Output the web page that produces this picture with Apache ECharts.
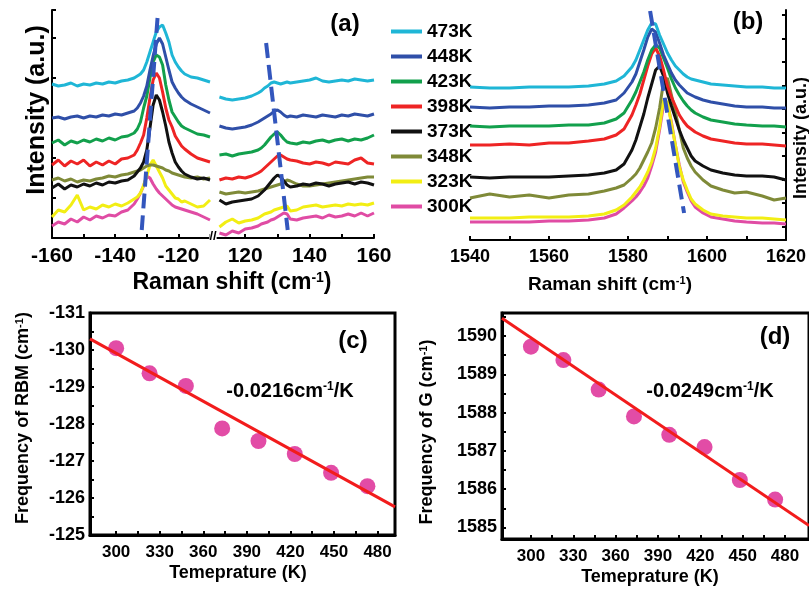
<!DOCTYPE html>
<html><head><meta charset="utf-8">
<script src="https://cdn.jsdelivr.net/npm/echarts@6/dist/echarts.min.js"></script>
<style>html,body{margin:0;padding:0;background:#fff}#c{width:809px;height:589px}</style>
</head><body><div id="c"></div>
<script>
// ---------- categories / legend ----------
const temps = ['300K','323K','348K','373K','398K','423K','448K','473K'];
const colors = ['#e04ca4','#f2ee14','#7f8a38','#111111','#ee2424','#12a04c','#2f4fa8','#1fb6d6'];

// ---------- panel (a): RBM, anti-Stokes side ----------
const aLeftX = [-160,-158,-156,-154,-152,-150,-148,-146,-144,-142,-140,-138,-136,-134,-133,-132,-131,-130,-129,-128,-127,-126,-125,-124,-123,-122,-121,-120,-119,-118,-116,-114,-112,-110];
const rbmL300 = [12,16,14,19,16,21,18,22,20,23,22,26,28,34,39,45,52,62,60,54,49,45,42,39,36,33,31,30,29,28,26,24,21,18];
const rbmL323 = [21,28,26,33,43,28,31,29,33,31,34,32,35,39,41,45,53,62,73,78,72,66,60,52,48,44,40,39,36,37,34,31,32,38];
const rbmL348 = [58,60,57,59,56,58,57,59,60,62,61,63,64,66,67,68,70,72,73,73,72,71,70,68,67,65,64,63,62,61,60,61,59,60];
const rbmL373 = [50,54,49,53,51,54,52,55,53,56,55,57,58,62,66,70,76,88,110,133,143,138,126,112,96,85,76,71,67,64,61,59,60,58];
const rbmL398 = [73,78,72,77,74,78,72,76,73,77,74,79,80,83,88,95,103,120,140,158,165,160,146,130,118,111,102,97,92,89,84,80,78,76];
const rbmL423 = [95,98,93,97,95,98,96,99,97,100,98,101,102,105,109,116,130,142,160,176,183,181,173,153,138,126,121,116,112,110,107,104,103,101];
const rbmL448 = [120,121,119,121,122,120,122,121,123,122,124,123,125,127,130,135,142,152,168,182,194,200,194,181,168,156,150,145,141,138,134,131,128,125];
const rbmL473 = [154,152,153,155,152,154,153,155,154,156,155,157,158,160,162,164,168,176,186,196,206,211,213,205,196,183,176,171,167,164,161,160,158,156];

// ---------- panel (a): RBM, Stokes side ----------
const aRightX = [112,114,116,118,120,122,124,125,126,127,128,129,130,131,132,133,134,136,138,140,142,144,146,148,150,152,154,156,158,160];
const rbmR300 = [5,3,7,5,9,10,12,14,15,16,18,19,21,23,25,24,19,18,20,21,22,20,23,21,22,24,22,25,22,25];
const rbmR323 = [11,16,19,15,17,18,20,22,24,25,26,28,29,30,31,32,27,28,31,32,33,31,32,33,32,34,33,34,33,35];
const rbmR348 = [46,44,45,46,45,46,47,48,49,50,51,52,53,54,56,58,57,54,52,52,53,54,55,56,57,58,59,60,61,61];
const rbmR373 = [38,34,36,37,38,39,42,45,48,52,56,60,63,61,57,53,51,52,54,53,55,54,52,54,55,56,54,56,55,53];
const rbmR398 = [58,60,59,61,60,62,65,67,70,73,76,79,82,83,81,79,78,77,75,74,76,75,73,76,75,74,78,80,75,74];
const rbmR423 = [83,84,82,84,85,86,88,90,93,97,101,104,106,103,99,96,95,94,96,95,97,98,96,98,99,97,99,98,100,103];
const rbmR448 = [112,110,109,110,111,113,116,118,120,122,124,127,128,126,123,121,122,121,123,122,121,123,122,121,123,122,124,123,122,124];
const rbmR473 = [141,139,138,139,140,142,145,147,150,152,155,156,155,154,155,156,155,156,157,158,160,157,156,157,158,157,159,158,157,158];

// peak-shift guide lines in (a)
const dashALx = [-126.6, -131.6];
const dashALy = [220, 8];
const dashARx = [126.5, 133.2];
const dashARy = [195, 8];

// ---------- panel (b): G band ----------
const bX = [1540,1545,1550,1555,1560,1565,1570,1574,1577,1579,1581,1582,1583,1584,1585,1586,1587,1588,1589,1590,1591,1592,1593,1594,1595,1596,1597,1599,1601,1604,1607,1610,1614,1617,1620];
const gB300 = [18,18,18,18,19,19,20,22,26,32,39,43,48,54,62,74,88,110,135,137,118,95,75,58,48,39,33,27,23,21,19,18,17,17,16];
const gB323 = [22,22,22,23,23,23,24,26,30,35,43,48,53,60,68,78,92,113,140,138,116,95,73,60,50,41,36,30,26,24,23,22,22,21,20];
const gB348 = [42,46,43,45,42,45,46,49,52,55,62,66,72,80,88,97,112,132,158,162,145,128,110,92,82,74,68,60,54,50,47,48,44,40,42];
const gB373 = [63,62,63,63,63,64,65,67,70,76,90,100,113,126,142,156,170,174,164,147,134,122,110,100,92,84,79,74,70,67,65,64,64,63,60];
const gB398 = [95,95,96,95,97,97,99,101,105,111,125,135,146,160,174,186,192,184,170,154,143,134,125,119,114,111,108,104,101,99,97,96,96,95,94];
const gB423 = [114,113,114,114,114,115,115,117,121,127,140,148,158,168,180,190,195,192,182,172,161,152,145,139,134,130,127,123,120,118,116,115,114,114,113];
const gB448 = [133,132,133,133,134,134,135,137,140,147,158,166,178,190,203,211,208,197,185,176,167,160,155,151,147,145,143,140,138,136,134,133,133,132,132];
const gB473 = [153,152,152,153,153,153,154,156,159,164,173,180,190,200,210,217,216,205,196,187,180,174,170,166,163,161,160,158,156,155,154,153,153,152,152];
const dashBx = [1585.6, 1594.2];
const dashBy = [229, 27];

// ---------- tick labels ----------
const aLabelsL = [-160,-140,-120];
const aLabelsR = [120,140,160];
const bLabels = [1540,1560,1580,1600,1620];
const bYTicks = [13,37,60,84,107,131,154,178,201,225];
const tempLabels = [300,330,360,390,420,450,480];
const tempTicks = [300,315,330,345,360,375,390,405,420,435,450,465,480];
const dLabels = [1585,1586,1587,1588,1589,1590];
const dTicks = [1585,1585.5,1586,1586.5,1587,1587.5,1588,1588.5,1589,1589.5,1590,1590.5];

// ---------- panel (c) & (d) ----------
const fitTemps = [300,323,348,373,398,423,448,473];
const rbmFreq = [-130.05,-129.37,-129.03,-127.88,-127.54,-127.19,-126.68,-126.32];
const rbmFitT = [282, 492];
const rbmFitV = [-130.3, -125.76];
const gFreq = [1589.72,1589.37,1588.60,1587.90,1587.42,1587.10,1586.24,1585.73];
const gFitT = [279.5, 497];
const gFitV = [1590.46, 1585.05];

const rbmLeft = [rbmL300,rbmL323,rbmL348,rbmL373,rbmL398,rbmL423,rbmL448,rbmL473];
const rbmRight = [rbmR300,rbmR323,rbmR348,rbmR373,rbmR398,rbmR423,rbmR448,rbmR473];
const gBand = [gB300,gB323,gB348,gB373,gB398,gB423,gB448,gB473];

const FONT = '"Liberation Sans", Arial, Helvetica, sans-serif';
const zip = (xs, ys) => xs.map((x, i) => [x, ys[i]]);
const plain = (v) => String(v);

const tickStyle = (w) => ({ show: true, inside: true, length: 4, lineStyle: { color: '#000', width: w } });
const lineAx = (w) => ({ show: true, lineStyle: { color: '#000', width: w } });
const lab = (size, margin, extra) => Object.assign({ color: '#000', fontWeight: 'bold', fontFamily: FONT, fontSize: size, margin: margin, formatter: plain }, extra || {});

const chart = echarts.init(document.getElementById('c'), null, { renderer: 'canvas' });

const series = [];
temps.forEach((t, i) => {
  const ls = { color: colors[i], width: 3 };
  series.push({ type: 'line', name: t, xAxisIndex: 0, yAxisIndex: 0, data: zip(aLeftX, rbmLeft[i]), symbol: 'none', lineStyle: ls, itemStyle: { color: colors[i] }, z: 2 + i });
  series.push({ type: 'line', name: t, xAxisIndex: 1, yAxisIndex: 1, data: zip(aRightX, rbmRight[i]), symbol: 'none', lineStyle: ls, itemStyle: { color: colors[i] }, z: 2 + i });
  series.push({ type: 'line', name: t, xAxisIndex: 2, yAxisIndex: 2, data: zip(bX, gBand[i]), symbol: 'none', lineStyle: ls, itemStyle: { color: colors[i] }, z: 2 + i });
});
const dashStyle = { color: '#3356bd', width: 4, type: [15, 7] };
series.push({ type: 'line', xAxisIndex: 0, yAxisIndex: 0, data: zip(dashALx, dashALy), symbol: 'none', lineStyle: dashStyle, z: 20 });
series.push({ type: 'line', xAxisIndex: 1, yAxisIndex: 1, data: zip(dashARx, dashARy), symbol: 'none', lineStyle: dashStyle, z: 20 });
series.push({ type: 'line', xAxisIndex: 2, yAxisIndex: 2, data: zip(dashBx, dashBy), symbol: 'none', lineStyle: dashStyle, z: 20 });

series.push({ type: 'scatter', xAxisIndex: 3, yAxisIndex: 3, data: zip(fitTemps, rbmFreq), symbolSize: 16, itemStyle: { color: '#e24ca6', opacity: 1 }, z: 5 });
series.push({ type: 'line', xAxisIndex: 3, yAxisIndex: 3, data: zip(rbmFitT, rbmFitV), symbol: 'none', lineStyle: { color: '#f21c1c', width: 3 }, z: 6 });
series.push({ type: 'scatter', xAxisIndex: 4, yAxisIndex: 4, data: zip(fitTemps, gFreq), symbolSize: 16, itemStyle: { color: '#e24ca6', opacity: 1 }, z: 5 });
series.push({ type: 'line', xAxisIndex: 4, yAxisIndex: 4, data: zip(gFitT, gFitV), symbol: 'none', lineStyle: { color: '#f21c1c', width: 3 }, z: 6 });

function T(x, y, text, size, rot) {
  return {
    type: 'text', x: x, y: y, rotation: rot || 0, z: 100,
    style: {
      text: text, fontSize: size, fontWeight: 'bold', fontFamily: FONT, fill: '#000',
      align: 'center', verticalAlign: 'middle', textAlign: 'center', textVerticalAlign: 'middle',
      rich: { sup: { fontSize: Math.round(size * 0.6), fontWeight: 'bold', fontFamily: FONT, fill: '#000', verticalAlign: 'top', lineHeight: Math.round(size * 0.7) } }
    }
  };
}

const option = {
  animation: false,
  backgroundColor: '#fff',
  legend: {
    data: temps.slice().reverse(), orient: 'vertical', left: 386, top: 17,
    icon: 'rect', itemWidth: 31, itemHeight: 4, itemGap: 6, itemTextGap: 3, selectedMode: false,
    textStyle: { color: '#000', fontWeight: 'bold', fontFamily: FONT, fontSize: 19, lineHeight: 19 }
  },
  grid: [
    { left: 52, top: 10, width: 158, height: 228 },
    { left: 213, top: 10, width: 161, height: 228 },
    { left: 470, top: 10, width: 316, height: 230 },
    { left: 90, top: 313, width: 305, height: 222, show: true, borderColor: '#000', borderWidth: 3, backgroundColor: 'transparent' },
    { left: 502, top: 313, width: 320, height: 226, show: true, borderColor: '#000', borderWidth: 3, backgroundColor: 'transparent' }
  ],
  xAxis: [
    { gridIndex: 0, type: 'value', min: -160, max: -110, interval: 10, axisLine: lineAx(2), axisTick: tickStyle(2), splitLine: { show: false }, axisLabel: lab(21, 8, { customValues: aLabelsL }) },
    { gridIndex: 1, type: 'value', min: 110, max: 160, interval: 10, axisLine: lineAx(2), axisTick: tickStyle(2), splitLine: { show: false }, axisLabel: lab(21, 8, { customValues: aLabelsR }) },
    { gridIndex: 2, type: 'value', min: 1540, max: 1620, interval: 10, axisLine: lineAx(2), axisTick: tickStyle(2), splitLine: { show: false }, axisLabel: lab(18, 8, { customValues: bLabels }) },
    { gridIndex: 3, type: 'value', min: 282, max: 492, axisLine: lineAx(3), axisTick: Object.assign(tickStyle(2), { customValues: tempTicks }), splitLine: { show: false }, axisLabel: lab(17, 9, { customValues: tempLabels }) },
    { gridIndex: 4, type: 'value', min: 279.5, max: 497, axisLine: lineAx(3), axisTick: Object.assign(tickStyle(2), { customValues: tempTicks }), splitLine: { show: false }, axisLabel: lab(17, 9, { customValues: tempLabels }) }
  ],
  yAxis: [
    { gridIndex: 0, type: 'value', min: 0, max: 228, interval: 40, axisLine: lineAx(2), axisTick: tickStyle(2), splitLine: { show: false }, axisLabel: { show: false } },
    { gridIndex: 1, type: 'value', min: 0, max: 228, show: false, splitLine: { show: false } },
    { gridIndex: 2, type: 'value', position: 'right', min: 0, max: 230, axisLine: lineAx(2), axisTick: Object.assign(tickStyle(2), { customValues: bYTicks }), splitLine: { show: false }, axisLabel: { show: false } },
    { gridIndex: 3, type: 'value', min: -131, max: -125, interval: 1, inverse: true, axisLine: lineAx(3), axisTick: tickStyle(2), minorTick: { show: true, splitNumber: 2, length: 4, lineStyle: { color: '#000', width: 2 } }, splitLine: { show: false }, axisLabel: lab(18, 5) },
    { gridIndex: 4, type: 'value', min: 1584.7, max: 1590.6, axisLine: lineAx(3), axisTick: Object.assign(tickStyle(2), { customValues: dTicks }), splitLine: { show: false }, axisLabel: lab(18, 5, { customValues: dLabels }) }
  ],
  graphic: [
    T(37, 110, 'Intensity (a.u.)', 25, Math.PI / 2),
    T(232, 283, 'Raman shift (cm{sup|-1})', 23),
    T(345, 24, '(a)', 24),
    { type: 'text', x: 213, y: 236, z: 100, style: { text: '//', fontSize: 13, fontWeight: 'bold', fontFamily: FONT, fill: '#000', align: 'center', verticalAlign: 'middle', textAlign: 'center', textVerticalAlign: 'middle', backgroundColor: '#fff' } },
    T(748, 22, '(b)', 24),
    T(610, 285, 'Raman shift (cm{sup|-1})', 19),
    T(801, 138, 'Intensity (a.u.)', 18, Math.PI / 2),
    T(353, 341, '(c)', 24),
    T(290, 391, '-0.0216cm{sup|-1}/K', 20),
    T(23, 418, 'Frequency of RBM (cm{sup|-1})', 18, Math.PI / 2),
    T(238, 573, 'Temeprature (K)', 18),
    T(775, 337, '(d)', 24),
    T(710, 391, '-0.0249cm{sup|-1}/K', 20),
    T(427, 432, 'Frequency of G (cm{sup|-1})', 18, Math.PI / 2),
    T(650, 577, 'Temeprature (K)', 18)
  ],
  series: series
};
chart.setOption(option);
</script>
</body></html>
